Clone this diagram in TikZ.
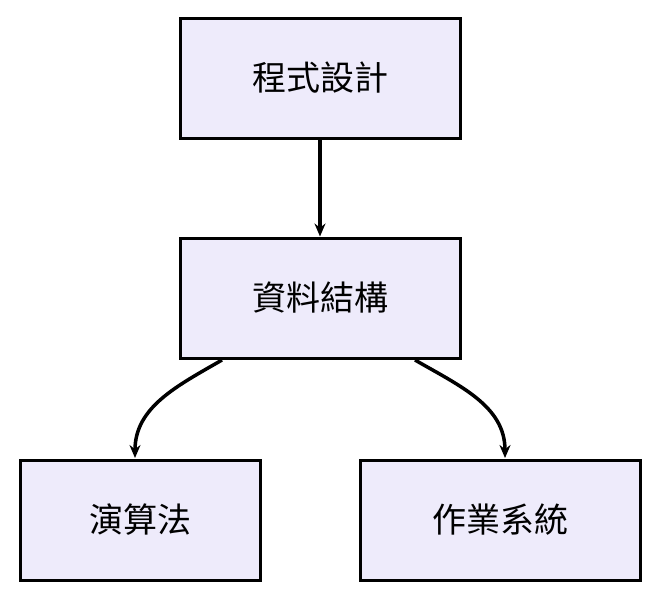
\documentclass[tikz,border=0pt]{standalone}
\usepackage{fontspec}
\newfontfamily\cjk{Noto Sans CJK TC}
\usetikzlibrary{positioning,arrows.meta}
\definecolor{boxfill}{HTML}{EEEBFB}
\tikzstyle{blk}=[%
      rectangle, draw=black, line width=3pt, fill=boxfill,
      minimum height=120pt, inner sep=6pt, font=\cjk\fontsize{34}{34}\selectfont
]
\begin{document}
\begin{tikzpicture}[x=1pt, y=-1pt,
    -{Stealth[length=13pt,width=11pt]}, line width=3.5pt
  ]
    \useasboundingbox (0,0) rectangle (660,600);
    \node[blk, minimum width=280pt] (prog) at (320,78)  {程式設計};
    \node[blk, minimum width=280pt] (ds)   at (320,298) {資料結構};
    \node[blk, minimum width=240pt] (algo) at (140,520) {演算法};
    \node[blk, minimum width=280pt] (os)   at (500,520) {作業系統};

    \coordinate (l0) at (222,360);
    \coordinate (r0) at (415,360);
    \coordinate (l1) at (135,458);
    \coordinate (r1) at (505,458);

    \draw (prog) -- (ds);
    \draw (l0) to[out=-150, in=90] (l1);
    \draw (r0) to[out=-30, in=90] (r1);
\end{tikzpicture}
\end{document}
